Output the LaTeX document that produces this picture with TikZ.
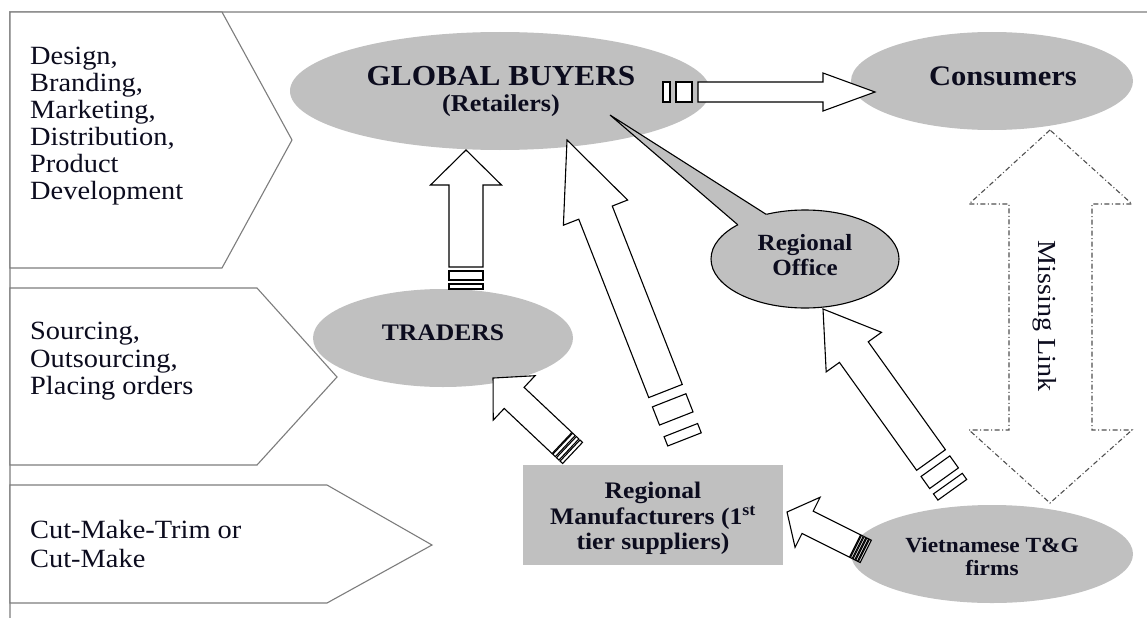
\documentclass[tikz,border=0pt]{standalone}
\usepackage{fontspec}
\setmainfont{Liberation Serif}[FakeStretch=1.08]
\usetikzlibrary{shapes.geometric,calc}
\definecolor{silver}{RGB}{192,192,192}
\definecolor{panelline}{RGB}{125,125,125}
\definecolor{frameline}{RGB}{170,170,170}
\definecolor{inkc}{RGB}{12,12,30}
\definecolor{mlinec}{RGB}{80,80,80}
\newcommand\blockarrow[6]{%
  \pgfpointdiff{\pgfpointanchor{#1}{center}}{\pgfpointanchor{#2}{center}}%
  \pgfgetlastxy{\vx}{\vy}%
  \pgfmathsetmacro\arrang{atan2(\vy,\vx)}%
  \pgfmathsetmacro\arrlen{veclen(\vx,\vy)}%
  \pgfmathsetmacro\arrhb{\arrlen-#5}%
  \begin{scope}[shift={(#1)},rotate=\arrang,x=1pt,y=1pt]
    \draw[barrow] (0,-#3) -- (\arrhb,-#3) -- (\arrhb,-#4) -- (\arrlen,0)
      -- (\arrhb,#4) -- (\arrhb,#3) -- (0,#3) -- cycle;
    \foreach \sa/\sb in {#6} {\draw[barrow] (-\sa,-#3) rectangle (-\sb,#3);}
  \end{scope}}
\tikzset{
  panel/.style={draw=panelline, line width=1.1pt, fill=white},
  ptext/.style={anchor=north west, inner sep=0pt, align=left, text=inkc},
  bubble/.style={ellipse, fill=silver, inner sep=0pt, outer sep=0pt},
  barrow/.style={draw=black, fill=white, line width=1.1pt, line join=miter},
  lbl/.style={inner sep=0pt, text=inkc},
  mlink/.style={draw=mlinec, line width=1.1pt, dash pattern=on 5pt off 2.5pt on 1pt off 2.5pt},
}
\begin{document}
\begin{tikzpicture}[x=1pt,y=-1pt]
\useasboundingbox (0,0) rectangle (1147,618);
\fill[white] (0,0) rectangle (1147,618);
% frame
\draw[frameline, line width=1.4pt] (10,618) -- (10,12) -- (1147,12);
% panels
\draw[panel] (10,12) -- (222,12) -- (292,140) -- (222,268) -- (10,268) -- cycle;
\draw[panel] (10,288) -- (257,288) -- (337,377) -- (257,465) -- (10,465) -- cycle;
\draw[panel] (10,485) -- (327,485) -- (432,545) -- (327,603) -- (10,603) -- cycle;
\node[ptext, font=\fontsize{26.3}{27}\selectfont] (p1) at (30,47.3)
  {Design,\\Branding,\\Marketing,\\Distribution,\\Product\\Development};
\node[ptext, font=\fontsize{26.3}{27.5}\selectfont] (p2) at (30,322)
  {Sourcing,\\Outsourcing,\\Placing orders};
\node[ptext, font=\fontsize{26.3}{29}\selectfont] (p3) at (30,520)
  {Cut-Make-Trim or\\Cut-Make};
% ellipses and box
\node[bubble, minimum width=420pt, minimum height=118pt] (gb) at (500,91) {};
\node[bubble, minimum width=282pt, minimum height=98pt] (cons) at (992,81) {};
\node[bubble, minimum width=260pt, minimum height=98pt] (trad) at (443,338) {};
\node[bubble, minimum width=282pt, minimum height=98pt] (vn) at (992,554) {};
\node[fill=silver, minimum width=260pt, minimum height=100pt, inner sep=0pt] (rm) at (653,515) {};
% arrow end points
\coordinate (a0s) at (698,92);  \coordinate (a0e) at (875,92);
\coordinate (a1s) at (466,267); \coordinate (a1e) at (466,150);
\coordinate (a2s) at (665.5,391); \coordinate (a2e) at (567,140);
\coordinate (a3s) at (562,443); \coordinate (a3e) at (493,378);
\coordinate (a4s) at (931,460); \coordinate (a4e) at (823,309);
\coordinate (a5s) at (855,546); \coordinate (a5e) at (787,512);
\blockarrow{a0s}{a0e}{10}{19}{52}{6/22,28/35}
\blockarrow{a1s}{a1e}{17}{35.5}{35}{4/13,17/22}
\blockarrow{a2s}{a2e}{18}{34.5}{78}{10/29.5,42/52}
\blockarrow{a3s}{a3e}{14.5}{30.5}{29}{1/4.5,6/9.5,11/14.5}
\blockarrow{a4s}{a4e}{17.7}{34}{53}{7.6/22.4,29/36.6}
\blockarrow{a5s}{a5e}{12.5}{28}{23}{1/3,4/6,7/9,10/12}
% regional office callout
\node[bubble, draw=black, line width=1.1pt, minimum width=188pt, minimum height=98pt] (ro) at (805,259) {};
\coordinate (rotip) at (610,115);
\fill[silver] (rotip) -- (ro.131) -- ($(ro.131)!3pt!(ro.center)$) -- ($(ro.153)!3pt!(ro.center)$) -- (ro.153) -- cycle;
\draw[line width=1.1pt] (ro.131) -- (rotip) -- (ro.153);
% missing link
\coordinate (mlt) at (1050,130);
\coordinate (mlb) at (1050,503);
\draw[mlink] (mlt) -- (969,204) -- (1009,204) -- (1009,430) -- (969,430) -- (mlb)
  -- (1132,430) -- (1092,430) -- (1092,204) -- (1132,204) -- cycle;
\node[lbl, rotate=-90, font=\fontsize{26}{26}\selectfont] (mltext) at (1045,316) {Missing Link};
% labels
\node[lbl, anchor=base, font=\bfseries\fontsize{29}{29}\selectfont] (gbt) at (501,85) {GLOBAL BUYERS};
\node[lbl, anchor=base, font=\bfseries\fontsize{24.2}{24.2}\selectfont] (gbs) at (501,111) {(Retailers)};
\node[lbl, anchor=base, font=\bfseries\fontsize{28.3}{28.3}\selectfont] (const) at (1003,85) {Consumers};
\node[lbl, anchor=base, font=\bfseries\fontsize{23.7}{23.7}\selectfont] (tradt) at (443,340) {TRADERS};
\node[lbl, anchor=north, align=center, font=\bfseries\fontsize{23.2}{25}\selectfont] (rot) at (805,234.5) {Regional\\Office};
\node[lbl, anchor=north, align=center, font=\bfseries\fontsize{23.7}{25.5}\selectfont] (rmt) at (653,482)
  {Regional\\Manufacturers (1\textsuperscript{st}\\tier suppliers)};
\node[lbl, anchor=north, align=center, font=\bfseries\fontsize{21.6}{23}\selectfont] (vnt) at (992,537.5)
  {Vietnamese T\&G\\firms};
\end{tikzpicture}
\end{document}
